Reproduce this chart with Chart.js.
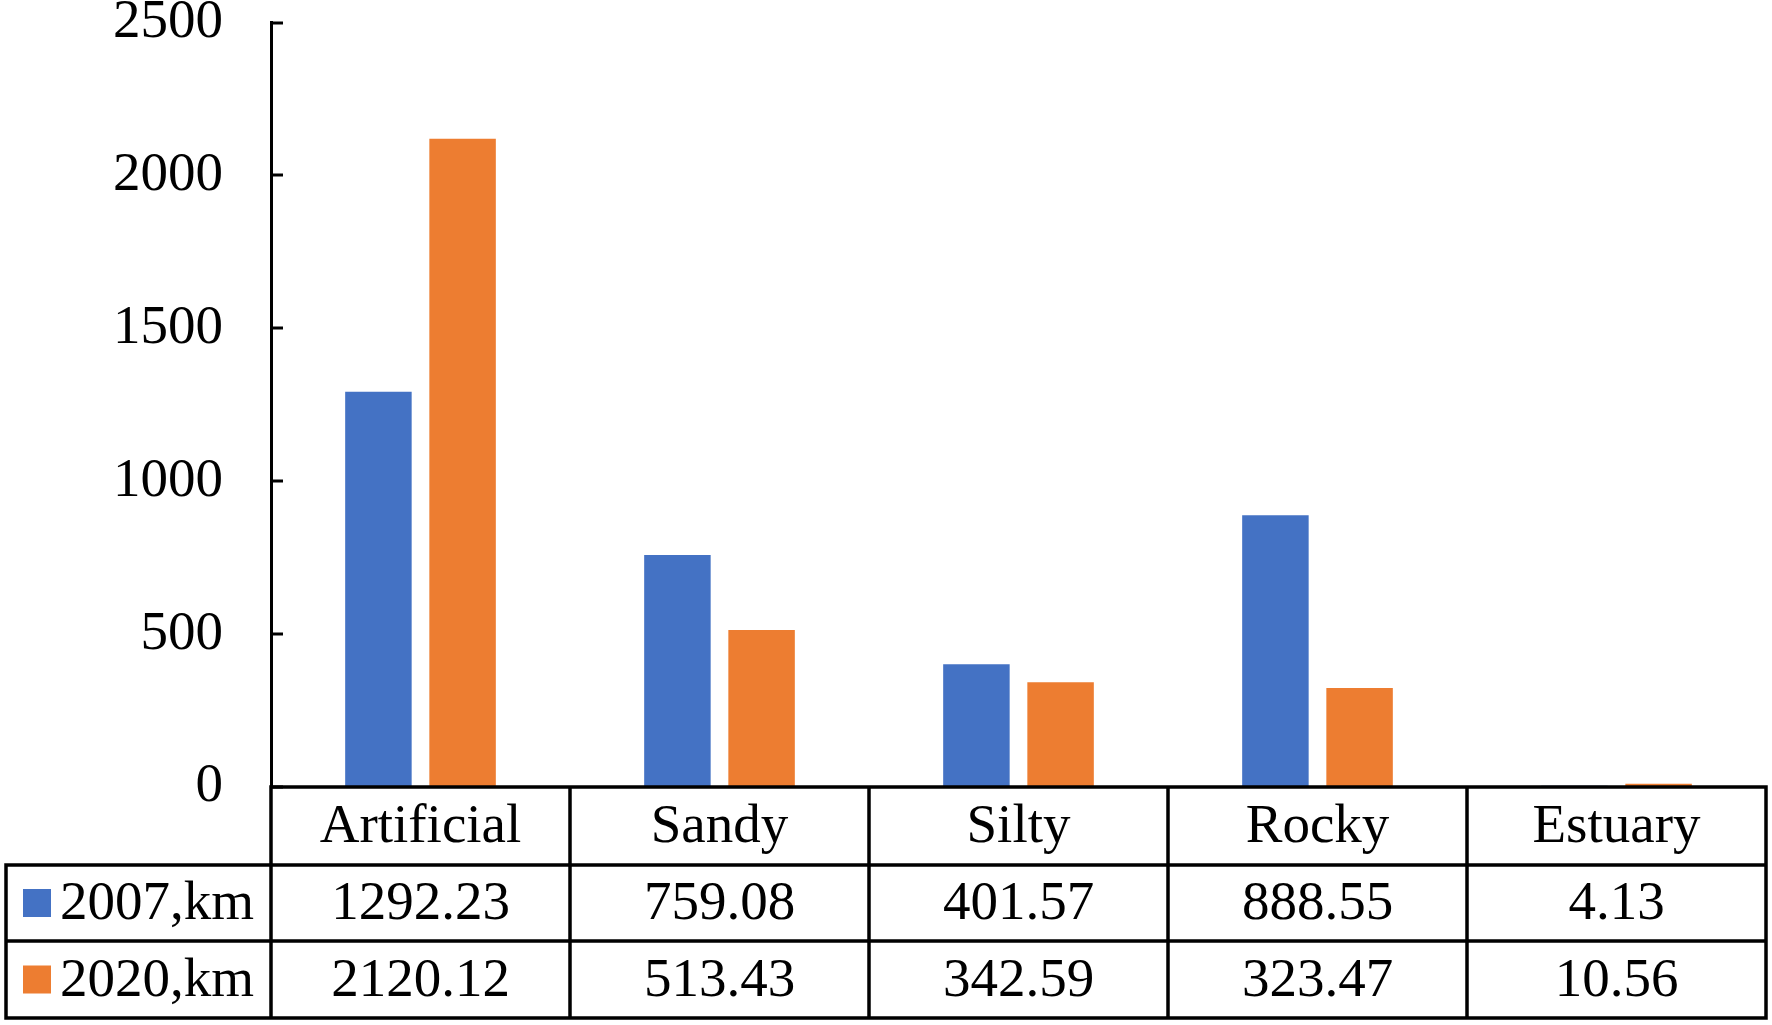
<!DOCTYPE html>
<html>
<head>
<meta charset="utf-8">
<script src="https://cdn.jsdelivr.net/npm/chart.js@4"></script>
<style>
  html, body { margin: 0; padding: 0; background: #fff; }
  #wrap { width: 1772px; height: 1025px; }
</style>
</head>
<body>
<div id="wrap"><canvas id="c" width="1772" height="1025"></canvas></div>
<script>
const categories = ['Artificial', 'Sandy', 'Silty', 'Rocky', 'Estuary'];
const series2007 = [1292.23, 759.08, 401.57, 888.55, 4.13];
const series2020 = [2120.12, 513.43, 342.59, 323.47, 10.56];
const seriesLabels = ['2007,km', '2020,km'];
const yTicks = [0, 500, 1000, 1500, 2000, 2500];

const BLUE = '#4472C4';
const ORANGE = '#ED7D31';
const FONT = 'Liberation Serif';
const FS = 55;

const tablePlugin = {
  id: 'dataTable',
  afterDraw(chart) {
    const ctx = chart.ctx;
    const xs = chart.scales.x;
    const ys = chart.scales.y;
    const area = chart.chartArea;
    const left = area.left, right = area.right;
    const y0 = area.bottom;
    const y1 = y0 + 78, y2 = y1 + 76, y3 = y2 + 77;
    const tableLeft = 6;

    ctx.save();
    // inner tick marks on y axis
    ctx.strokeStyle = '#000';
    ctx.lineWidth = 3;
    yTicks.forEach(v => {
      const py = Math.round(ys.getPixelForValue(v));
      ctx.beginPath();
      ctx.moveTo(left, py);
      ctx.lineTo(left + 12, py);
      ctx.stroke();
    });

    // column boundaries
    const n = categories.length;
    const bounds = [left];
    for (let i = 0; i < n - 1; i++) {
      bounds.push((xs.getPixelForValue(i) + xs.getPixelForValue(i + 1)) / 2);
    }
    bounds.push(right);

    ctx.lineWidth = 3.5;
    ctx.lineCap = 'square';
    ctx.beginPath();
    ctx.moveTo(left, y0); ctx.lineTo(right, y0);
    ctx.moveTo(tableLeft, y1); ctx.lineTo(right, y1);
    ctx.moveTo(tableLeft, y2); ctx.lineTo(right, y2);
    ctx.moveTo(tableLeft, y3); ctx.lineTo(right, y3);
    bounds.forEach(b => { ctx.moveTo(b, y0); ctx.lineTo(b, y3); });
    ctx.moveTo(tableLeft, y1); ctx.lineTo(tableLeft, y3);
    ctx.stroke();

    ctx.fillStyle = '#000';
    ctx.font = FS + 'px "' + FONT + '"';
    ctx.textAlign = 'center';
    ctx.textBaseline = 'middle';
    const rows = [series2007, series2020];
    for (let i = 0; i < n; i++) {
      const cx = (bounds[i] + bounds[i + 1]) / 2;
      ctx.fillText(categories[i], cx, (y0 + y1) / 2 + 2);
      ctx.fillText(rows[0][i].toFixed(2), cx, (y1 + y2) / 2 + 2);
      ctx.fillText(rows[1][i].toFixed(2), cx, (y2 + y3) / 2 + 2);
    }
    const colors = [BLUE, ORANGE];
    const rowMid = [(y1 + y2) / 2, (y2 + y3) / 2];
    ctx.textAlign = 'left';
    for (let r = 0; r < 2; r++) {
      ctx.fillStyle = colors[r];
      ctx.fillRect(23, rowMid[r] - 14, 28, 28);
      ctx.fillStyle = '#000';
      ctx.fillText(seriesLabels[r], 60, rowMid[r] + 2);
    }
    ctx.restore();
  }
};

new Chart(document.getElementById('c'), {
  type: 'bar',
  data: {
    labels: categories,
    datasets: [
      { label: seriesLabels[0], data: series2007, backgroundColor: BLUE,
        categoryPercentage: 0.563, barPercentage: 0.79 },
      { label: seriesLabels[1], data: series2020, backgroundColor: ORANGE,
        categoryPercentage: 0.563, barPercentage: 0.79 }
    ]
  },
  options: {
    responsive: false,
    animation: false,
    devicePixelRatio: 1,
    layout: { padding: { left: 0, right: 6, top: 0, bottom: 238 } },
    plugins: { legend: { display: false }, tooltip: { enabled: false } },
    scales: {
      x: { display: false },
      y: {
        min: 0, max: 2500,
        afterFit(scale) { scale.width = 271; },
        afterBuildTicks(scale) { scale.ticks = yTicks.map(v => ({ value: v })); },
        grid: { display: true, drawOnChartArea: false, drawTicks: true,
                tickLength: 48, tickColor: 'rgba(0,0,0,0)' },
        border: { display: true, color: '#000', width: 3 },
        ticks: {
          padding: 0,
          color: '#000',
          font: { family: FONT, size: FS, lineHeight: 0.82 },
          callback: v => String(v)
        }
      }
    }
  },
  plugins: [tablePlugin]
});
</script>
</body>
</html>
